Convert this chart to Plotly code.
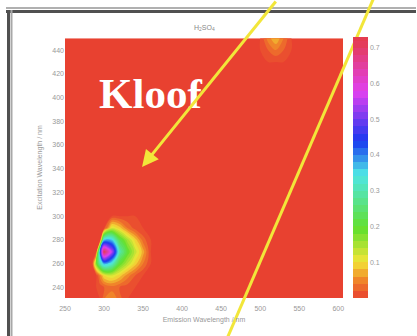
import numpy as np
import plotly.graph_objects as go

# Wavelength grids (nm)
emission = [250, 260, 270, 280, 285, 290, 295, 300, 310, 320, 330, 340, 350, 360,
            370, 380, 390, 400, 410, 420, 430, 440, 450, 460, 470, 480, 490, 500,
            510, 520, 530, 540, 550, 560, 570, 580, 590, 600, 610]
excitation = list(range(230, 451, 10))

# Fluorescence intensity patches (rows = excitation, cols = emission)
peak_em = [285, 290, 295, 300, 310, 320, 330, 340, 350, 360]
peak_ex = [240, 250, 260, 270, 280, 290, 300]
peak_z = [
    [0.00, 0.00, 0.01, 0.02, 0.03, 0.02, 0.01, 0.00, 0.00, 0.00],
    [0.00, 0.00, 0.05, 0.10, 0.12, 0.09, 0.05, 0.02, 0.00, 0.00],
    [0.00, 0.18, 0.30, 0.38, 0.33, 0.20, 0.14, 0.09, 0.04, 0.00],
    [0.00, 0.00, 0.42, 0.72, 0.55, 0.30, 0.20, 0.13, 0.07, 0.00],
    [0.00, 0.00, 0.00, 0.36, 0.36, 0.22, 0.15, 0.09, 0.03, 0.00],
    [0.00, 0.00, 0.00, 0.00, 0.12, 0.09, 0.04, 0.01, 0.00, 0.00],
    [0.00, 0.00, 0.00, 0.00, 0.00, 0.00, 0.00, 0.00, 0.00, 0.00],
]
low_em = [300, 310, 320]
low_ex = [230]
low_z = [[0.04, 0.06, 0.03]]
high_em = [510, 520, 530]
high_ex = [440, 450]
high_z = [[0.02, 0.04, 0.02], [0.05, 0.08, 0.04]]

cbar_ticks = [0.1, 0.2, 0.3, 0.4, 0.5, 0.6, 0.7]

z = np.zeros((len(excitation), len(emission)))
for ems, exs, vals in [(peak_em, peak_ex, peak_z), (low_em, low_ex, low_z),
                       (high_em, high_ex, high_z)]:
    for i, ex in enumerate(exs):
        for j, em in enumerate(ems):
            z[excitation.index(ex), emission.index(em)] = vals[i][j]

colorscale = [
    [0.00, "#e84130"],
    [0.07, "#f0862a"],
    [0.14, "#f3e538"],
    [0.27, "#62e02e"],
    [0.48, "#4ee6e6"],
    [0.61, "#1838f0"],
    [0.80, "#e040f0"],
    [1.00, "#e43c50"],
]

fig = go.Figure()
fig.add_trace(go.Contour(
    x=emission, y=excitation, z=z,
    colorscale=colorscale, zmin=0, zmax=0.73,
    contours=dict(start=0, end=0.73, size=0.02, coloring="fill"),
    line=dict(width=0),
    colorbar=dict(
        x=1.036, xanchor="left", xpad=0, y=0.5, yanchor="middle", ypad=0,
        len=1, lenmode="fraction", thickness=15, outlinewidth=0,
        tickvals=cbar_ticks, ticks="", tickfont=dict(size=7, color="#999999"),
    ),
))

W, H = 417, 336
L, R, T, B = 65, 74, 37, 38
pw, ph = W - L - R, H - T - B


def px(xp):
    return (xp - L) / pw


def py(yp):
    return (H - B - yp) / ph


axis_font = dict(size=7, color="#999999")
fig.update_layout(
    width=W, height=H,
    margin=dict(l=L, r=R, t=T, b=B),
    paper_bgcolor="white", plot_bgcolor="white",
    showlegend=False,
    xaxis=dict(range=[250, 606], tickvals=list(range(250, 601, 50)),
               showgrid=False, zeroline=False, ticks="", tickfont=axis_font,
               ticklabelstandoff=5,
               title=dict(text="Emission Wavelength / nm",
                          font=dict(size=7, color="#999999"), standoff=6)),
    yaxis=dict(range=[231, 451], tickvals=list(range(240, 441, 20)),
               showgrid=False, zeroline=False, ticks="", tickfont=axis_font,
               title=dict(text="Excitation Wavelength / nm",
                          font=dict(size=7, color="#999999"), standoff=8)),
    font=dict(family="Liberation Sans"),
)

# Title above the map
fig.add_annotation(text="H<sub>2</sub>SO<sub>4</sub>", xref="paper", yref="paper",
                   x=0.5, y=py(22), showarrow=False,
                   font=dict(size=7, color="#888888"))

# Sample label
fig.add_annotation(text="<b>Kloof</b>", xref="paper", yref="paper",
                   x=px(150), y=py(93), xanchor="center", yanchor="middle",
                   showarrow=False,
                   font=dict(family="Liberation Serif", size=43, color="white"))

# Outer frame (top and left edges)
frame = [
    (px(6), py(8), px(W - 1), py(8), "#b0b0b0", 2),
    (px(6), py(11.5), px(W - 1), py(11.5), "#505050", 3),
    (px(8.5), py(10), px(8.5), py(H), "#505050", 3),
    (px(11.5), py(10), px(11.5), py(H), "#a8a8a8", 2),
]
for x0, y0, x1, y1, c, w in frame:
    fig.add_shape(type="line", xref="paper", yref="paper",
                  x0=x0, y0=y0, x1=x1, y1=y1, line=dict(color=c, width=w))

# Yellow pointer lines
yellow = "#f2e63a"
fig.add_shape(type="line", xref="paper", yref="paper",
              x0=px(375), y0=py(-5), x1=px(226), y1=py(H + 5),
              line=dict(color=yellow, width=3))
fig.add_annotation(xref="paper", yref="paper", x=px(142), y=py(167),
                   ax=277 - 142, ay=-5 - 167, axref="pixel", ayref="pixel",
                   showarrow=True, arrowhead=2, arrowsize=1.1, arrowwidth=3,
                   arrowcolor=yellow, text="")

fig.write_html("out.html", config={"displayModeBar": False})
